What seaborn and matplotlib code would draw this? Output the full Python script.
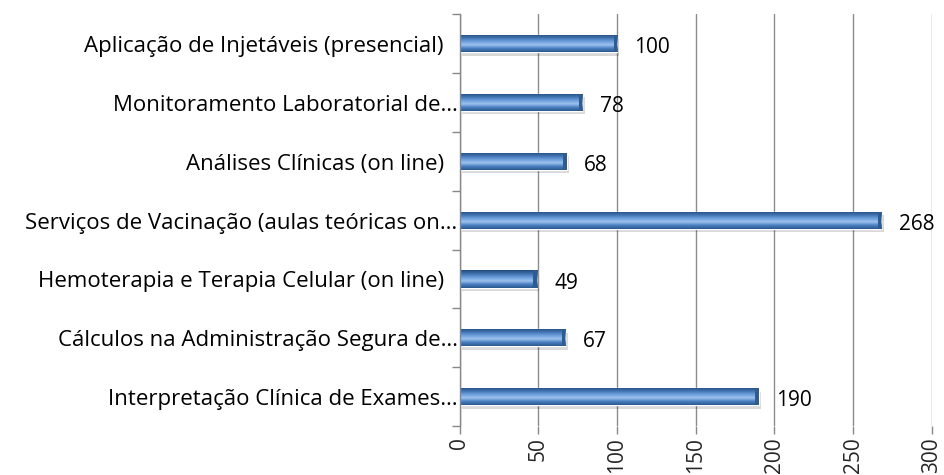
import matplotlib
matplotlib.use("Agg")
import matplotlib.pyplot as plt
import matplotlib.transforms as mtransforms
import numpy as np
import pandas as pd
import seaborn as sns
from matplotlib.colors import LinearSegmentedColormap

# data (top to bottom)
cursos = ["Aplicação de Injetáveis (presencial)",
          "Monitoramento Laboratorial de…",
          "Análises Clínicas (on line)",
          "Serviços de Vacinação (aulas teóricas on…",
          "Hemoterapia e Terapia Celular (on line)",
          "Cálculos na Administração Segura de…",
          "Interpretação Clínica de Exames…"]
inscritos = [100, 78, 68, 268, 49, 67, 190]
x_ticks = [0, 50, 100, 150, 200, 250, 300]

df = pd.DataFrame({"curso": cursos, "inscritos": inscritos})

sns.set_theme(style="white")
plt.rcParams['font.family'] = ['Open Sans', 'DejaVu Sans']
FS = 15

fig = plt.figure(figsize=(9.44, 4.75), dpi=100)
ax = fig.add_axes([0.487, 0.103, 0.5, 0.867])

ax = sns.barplot(data=df, y="curso", x="inscritos", orient="h",
                 color="#4F81BD", width=0.29, ax=ax, zorder=3)

# gradient to mimic the excel cylinder look
grad = LinearSegmentedColormap.from_list(
    "cyl", ["#2B5A8E", "#4A7EC0", "#9CC2EE", "#6A9DDA", "#3F71AE", "#234C7C"])
for p in ax.patches:
    x0, y0 = p.get_x(), p.get_y()
    w, h = p.get_width(), p.get_height()
    # soft shadow
    ax.add_patch(plt.Rectangle((x0 + 1.5, y0 + h * 0.2), w, h,
                               color="#000000", alpha=0.15, lw=0, zorder=2))
    img = np.linspace(0, 1, 64).reshape(-1, 1)
    im = ax.imshow(img, cmap=grad, aspect="auto", extent=(x0, x0 + w, y0, y0 + h),
                   origin="upper", zorder=4)
    im.set_clip_path(p)
    # darker end cap
    ax.add_patch(plt.Rectangle((x0 + w - 2.2, y0), 2.2, h, color="#2C5C94",
                               lw=0, zorder=5))

for i, v in enumerate(inscritos):
    ax.text(v + 11, i + 0.07, str(v), va="center", ha="left", fontsize=FS,
            color="black", zorder=6)

ax.set_xlim(0, 300)
ax.set_ylim(len(cursos) - 0.5, -0.5)
ax.set_xticks(x_ticks)
ax.set_xticklabels([str(t) for t in x_ticks], rotation=90, fontsize=FS)
ax.set_yticks(range(len(cursos)))
ax.set_yticklabels([])
ax.set_yticks(np.arange(-0.5, len(cursos)), minor=True)
ax.tick_params(axis="y", which="major", length=0)
ax.tick_params(axis="y", which="minor", length=6, color="#888888", width=1,
               direction="out", left=True)
ax.tick_params(axis="x", length=6, color="#888888", width=1, direction="out",
               bottom=True, pad=2)
ax.set_xlabel("")
ax.set_ylabel("")

# category labels: full ones sit a bit off the axis, cut ones run up to it
ytrans = ax.get_yaxis_transform()
for i, c in enumerate(cursos):
    gap = -2 if c.endswith("…") else -16
    tr = mtransforms.offset_copy(ytrans, fig=fig, x=gap, y=0, units="dots")
    ax.text(0, i + 0.05, c, transform=tr, ha="right", va="center",
            fontsize=16, color="black", clip_on=False)

ax.xaxis.grid(True, color="#8C8C8C", lw=1)
ax.set_axisbelow(True)
for s in ["top", "right", "bottom"]:
    ax.spines[s].set_visible(False)
ax.spines["left"].set_color("#888888")
ax.spines["left"].set_linewidth(1)
ax.spines["left"].set_zorder(6)

fig.savefig("out.png", dpi=100)
